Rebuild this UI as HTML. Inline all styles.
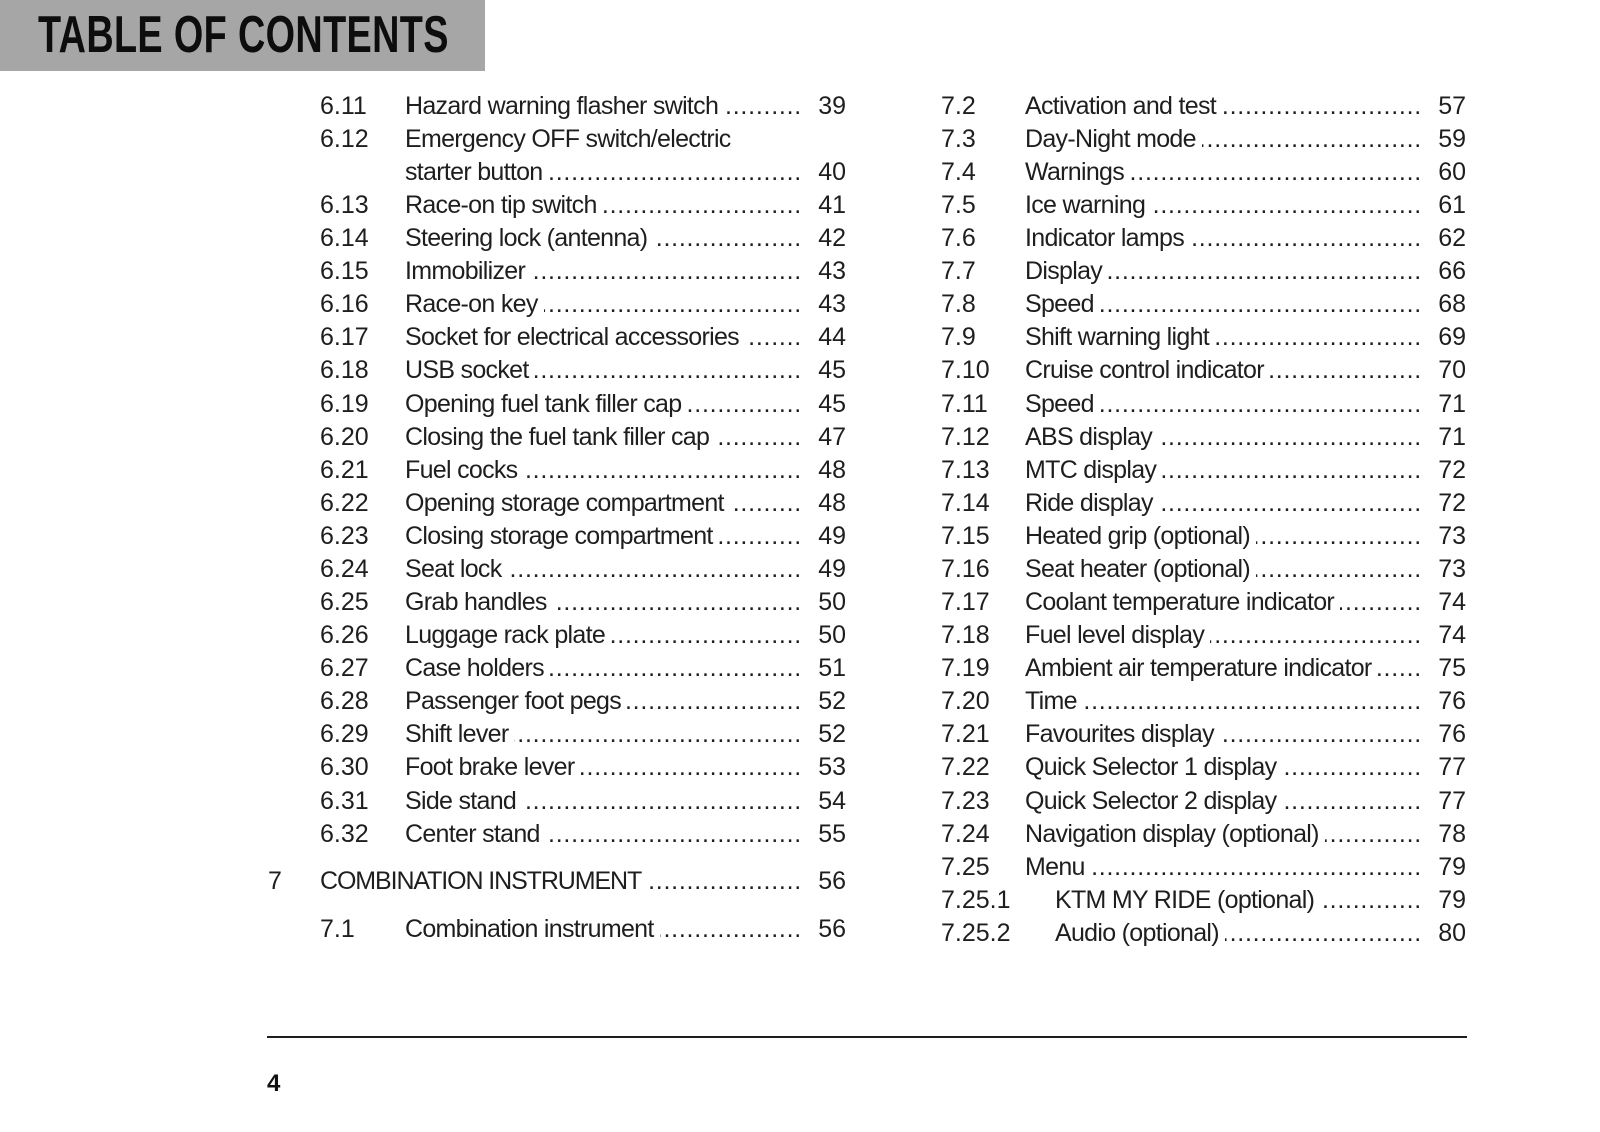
<!DOCTYPE html>
<html>
<head>
<meta charset="utf-8">
<style>
html,body{margin:0;padding:0;background:#fff;}
body{width:1600px;height:1132px;position:relative;overflow:hidden;font-family:"Liberation Sans",Arial,sans-serif;color:#1e1e1e;}
.hdr{position:absolute;left:0;top:0;width:485px;height:71px;background:#a6a6a6;}
.hdr span{position:absolute;left:38px;top:9px;font-size:52px;line-height:52px;font-weight:bold;color:#0d0d0d;white-space:nowrap;transform:scaleX(0.727);transform-origin:0 0;letter-spacing:0.5px;}
.row{position:absolute;left:0;width:1600px;height:33px;font-size:25px;line-height:33px;white-space:nowrap;}
.n{position:absolute;top:0;}
.t{position:absolute;top:0;display:flex;white-space:nowrap;}
.tx{flex:none;letter-spacing:-0.7px;}
.d{flex:1 1 auto;overflow:hidden;direction:rtl;letter-spacing:0.75px;margin-left:6px;min-width:0;}
.p{position:absolute;top:0;text-align:right;}
.L .t{left:405px;width:397px;}
.L .n{left:320px;}
.L .p{right:754px;}
.R .t{left:1025px;width:397px;}
.R .t.s{left:1055px;width:367px;}
.R .n{left:941px;}
.R .p{right:134px;}
.rule{position:absolute;left:267px;top:1036px;width:1200px;height:2px;background:#1e1e1e;}
.pg{position:absolute;left:267px;top:1072px;font-size:24px;line-height:24px;font-weight:bold;color:#111;}
</style>
</head>
<body>
<div class="hdr"><span>TABLE OF CONTENTS</span></div>

<!-- LEFT COLUMN -->
<div class="row L" style="top:89.8px"><span class="n">6.11</span><div class="t"><span class="tx">Hazard warning flasher switch</span><span class="d">......................................................................</span></div><span class="p">39</span></div>
<div class="row L" style="top:122.9px"><span class="n">6.12</span><div class="t"><span class="tx">Emergency OFF switch/electric</span></div></div>
<div class="row L" style="top:156.0px"><div class="t"><span class="tx">starter button</span><span class="d">......................................................................</span></div><span class="p">40</span></div>
<div class="row L" style="top:189.0px"><span class="n">6.13</span><div class="t"><span class="tx">Race-on tip switch</span><span class="d">......................................................................</span></div><span class="p">41</span></div>
<div class="row L" style="top:222.1px"><span class="n">6.14</span><div class="t"><span class="tx">Steering lock (antenna)</span><span class="d">......................................................................</span></div><span class="p">42</span></div>
<div class="row L" style="top:255.2px"><span class="n">6.15</span><div class="t"><span class="tx">Immobilizer</span><span class="d">......................................................................</span></div><span class="p">43</span></div>
<div class="row L" style="top:288.3px"><span class="n">6.16</span><div class="t"><span class="tx">Race-on key</span><span class="d">......................................................................</span></div><span class="p">43</span></div>
<div class="row L" style="top:321.4px"><span class="n">6.17</span><div class="t"><span class="tx">Socket for electrical accessories</span><span class="d">......................................................................</span></div><span class="p">44</span></div>
<div class="row L" style="top:354.4px"><span class="n">6.18</span><div class="t"><span class="tx">USB socket</span><span class="d">......................................................................</span></div><span class="p">45</span></div>
<div class="row L" style="top:387.5px"><span class="n">6.19</span><div class="t"><span class="tx">Opening fuel tank filler cap</span><span class="d">......................................................................</span></div><span class="p">45</span></div>
<div class="row L" style="top:420.6px"><span class="n">6.20</span><div class="t"><span class="tx">Closing the fuel tank filler cap</span><span class="d">......................................................................</span></div><span class="p">47</span></div>
<div class="row L" style="top:453.7px"><span class="n">6.21</span><div class="t"><span class="tx">Fuel cocks</span><span class="d">......................................................................</span></div><span class="p">48</span></div>
<div class="row L" style="top:486.8px"><span class="n">6.22</span><div class="t"><span class="tx">Opening storage compartment</span><span class="d">......................................................................</span></div><span class="p">48</span></div>
<div class="row L" style="top:519.8px"><span class="n">6.23</span><div class="t"><span class="tx">Closing storage compartment</span><span class="d">......................................................................</span></div><span class="p">49</span></div>
<div class="row L" style="top:552.9px"><span class="n">6.24</span><div class="t"><span class="tx">Seat lock</span><span class="d">......................................................................</span></div><span class="p">49</span></div>
<div class="row L" style="top:586.0px"><span class="n">6.25</span><div class="t"><span class="tx">Grab handles</span><span class="d">......................................................................</span></div><span class="p">50</span></div>
<div class="row L" style="top:619.1px"><span class="n">6.26</span><div class="t"><span class="tx">Luggage rack plate</span><span class="d">......................................................................</span></div><span class="p">50</span></div>
<div class="row L" style="top:652.2px"><span class="n">6.27</span><div class="t"><span class="tx">Case holders</span><span class="d">......................................................................</span></div><span class="p">51</span></div>
<div class="row L" style="top:685.2px"><span class="n">6.28</span><div class="t"><span class="tx">Passenger foot pegs</span><span class="d">......................................................................</span></div><span class="p">52</span></div>
<div class="row L" style="top:718.3px"><span class="n">6.29</span><div class="t"><span class="tx">Shift lever</span><span class="d">......................................................................</span></div><span class="p">52</span></div>
<div class="row L" style="top:751.4px"><span class="n">6.30</span><div class="t"><span class="tx">Foot brake lever</span><span class="d">......................................................................</span></div><span class="p">53</span></div>
<div class="row L" style="top:784.5px"><span class="n">6.31</span><div class="t"><span class="tx">Side stand</span><span class="d">......................................................................</span></div><span class="p">54</span></div>
<div class="row L" style="top:817.6px"><span class="n">6.32</span><div class="t"><span class="tx">Center stand</span><span class="d">......................................................................</span></div><span class="p">55</span></div>
<div class="row L" style="top:864.8px"><span class="n" style="left:268px">7</span><div class="t" style="left:320px;width:482px"><span class="tx" style="letter-spacing:-1.1px">COMBINATION INSTRUMENT</span><span class="d">......................................................................</span></div><span class="p">56</span></div>
<div class="row L" style="top:912.8px"><span class="n">7.1</span><div class="t"><span class="tx">Combination instrument</span><span class="d">......................................................................</span></div><span class="p">56</span></div>

<!-- RIGHT COLUMN -->
<div class="row R" style="top:89.8px"><span class="n">7.2</span><div class="t"><span class="tx">Activation and test</span><span class="d">......................................................................</span></div><span class="p">57</span></div>
<div class="row R" style="top:122.9px"><span class="n">7.3</span><div class="t"><span class="tx">Day-Night mode</span><span class="d">......................................................................</span></div><span class="p">59</span></div>
<div class="row R" style="top:156.0px"><span class="n">7.4</span><div class="t"><span class="tx">Warnings</span><span class="d">......................................................................</span></div><span class="p">60</span></div>
<div class="row R" style="top:189.0px"><span class="n">7.5</span><div class="t"><span class="tx">Ice warning</span><span class="d">......................................................................</span></div><span class="p">61</span></div>
<div class="row R" style="top:222.1px"><span class="n">7.6</span><div class="t"><span class="tx">Indicator lamps</span><span class="d">......................................................................</span></div><span class="p">62</span></div>
<div class="row R" style="top:255.2px"><span class="n">7.7</span><div class="t"><span class="tx">Display</span><span class="d">......................................................................</span></div><span class="p">66</span></div>
<div class="row R" style="top:288.3px"><span class="n">7.8</span><div class="t"><span class="tx">Speed</span><span class="d">......................................................................</span></div><span class="p">68</span></div>
<div class="row R" style="top:321.4px"><span class="n">7.9</span><div class="t"><span class="tx">Shift warning light</span><span class="d">......................................................................</span></div><span class="p">69</span></div>
<div class="row R" style="top:354.4px"><span class="n">7.10</span><div class="t"><span class="tx">Cruise control indicator</span><span class="d">......................................................................</span></div><span class="p">70</span></div>
<div class="row R" style="top:387.5px"><span class="n">7.11</span><div class="t"><span class="tx">Speed</span><span class="d">......................................................................</span></div><span class="p">71</span></div>
<div class="row R" style="top:420.6px"><span class="n">7.12</span><div class="t"><span class="tx">ABS display</span><span class="d">......................................................................</span></div><span class="p">71</span></div>
<div class="row R" style="top:453.7px"><span class="n">7.13</span><div class="t"><span class="tx">MTC display</span><span class="d">......................................................................</span></div><span class="p">72</span></div>
<div class="row R" style="top:486.8px"><span class="n">7.14</span><div class="t"><span class="tx">Ride display</span><span class="d">......................................................................</span></div><span class="p">72</span></div>
<div class="row R" style="top:519.8px"><span class="n">7.15</span><div class="t"><span class="tx">Heated grip (optional)</span><span class="d">......................................................................</span></div><span class="p">73</span></div>
<div class="row R" style="top:552.9px"><span class="n">7.16</span><div class="t"><span class="tx">Seat heater (optional)</span><span class="d">......................................................................</span></div><span class="p">73</span></div>
<div class="row R" style="top:586.0px"><span class="n">7.17</span><div class="t"><span class="tx">Coolant temperature indicator</span><span class="d">......................................................................</span></div><span class="p">74</span></div>
<div class="row R" style="top:619.1px"><span class="n">7.18</span><div class="t"><span class="tx">Fuel level display</span><span class="d">......................................................................</span></div><span class="p">74</span></div>
<div class="row R" style="top:652.2px"><span class="n">7.19</span><div class="t"><span class="tx">Ambient air temperature indicator</span><span class="d">......................................................................</span></div><span class="p">75</span></div>
<div class="row R" style="top:685.2px"><span class="n">7.20</span><div class="t"><span class="tx">Time</span><span class="d">......................................................................</span></div><span class="p">76</span></div>
<div class="row R" style="top:718.3px"><span class="n">7.21</span><div class="t"><span class="tx">Favourites display</span><span class="d">......................................................................</span></div><span class="p">76</span></div>
<div class="row R" style="top:751.4px"><span class="n">7.22</span><div class="t"><span class="tx">Quick Selector 1 display</span><span class="d">......................................................................</span></div><span class="p">77</span></div>
<div class="row R" style="top:784.5px"><span class="n">7.23</span><div class="t"><span class="tx">Quick Selector 2 display</span><span class="d">......................................................................</span></div><span class="p">77</span></div>
<div class="row R" style="top:817.6px"><span class="n">7.24</span><div class="t"><span class="tx">Navigation display (optional)</span><span class="d">......................................................................</span></div><span class="p">78</span></div>
<div class="row R" style="top:850.6px"><span class="n">7.25</span><div class="t"><span class="tx">Menu</span><span class="d">......................................................................</span></div><span class="p">79</span></div>
<div class="row R" style="top:883.7px"><span class="n">7.25.1</span><div class="t s"><span class="tx">KTM MY RIDE (optional)</span><span class="d">......................................................................</span></div><span class="p">79</span></div>
<div class="row R" style="top:916.8px"><span class="n">7.25.2</span><div class="t s"><span class="tx">Audio (optional)</span><span class="d">......................................................................</span></div><span class="p">80</span></div>

<div class="rule"></div>
<div class="pg">4</div>
</body>
</html>
